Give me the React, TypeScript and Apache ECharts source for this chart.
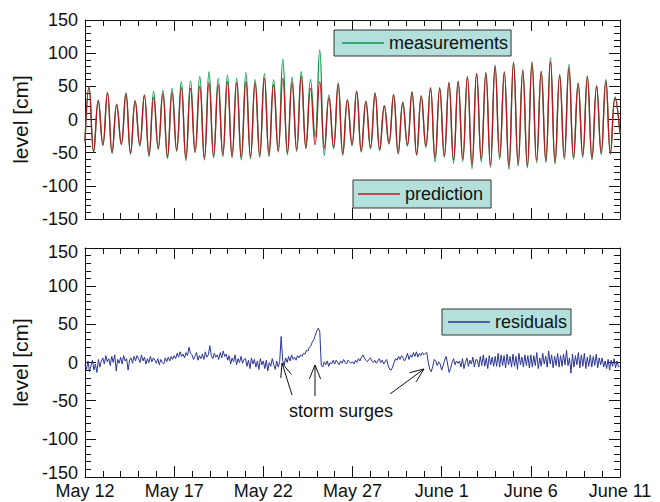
import React, { useEffect, useRef } from "react";
import * as echarts from "echarts";

// ---------- data ----------
const X_TICK_LABELS = ["May 12", "May 17", "May 22", "May 27", "June 1", "June 6", "June 11"];
const DAYS_SPAN = 30;
const FIRST_HIGH_WATER_HOUR = 5.4;
const TIDE_PERIOD_HOURS = 12.42;

const MEAS_START = -35;
const PRED_START = -33;
const MEAS_END = -22;
const PRED_END = -20;

const MEAS_HIGH = [
  50, 29, 41, 23, 40, 28, 37, 42, 44, 47,
  57, 58, 65, 72, 62, 67, 62, 71, 60, 69,
  60, 91, 64, 72, 60, 105, 37, 55, 30, 43,
  28, 40, 21, 38, 26, 42, 36, 48, 48, 56,
  58, 65, 70, 71, 82, 72, 87, 75, 87, 73,
  93, 68, 83, 55, 66, 51, 60, 34,
];
const PRED_HIGH = [
  48, 28, 40, 22, 39, 28, 36, 33, 39, 40,
  48, 47, 50, 55, 52, 57, 55, 57, 55, 62,
  52, 62, 55, 65, 47, 57, 33, 53, 29, 42,
  27, 39, 20, 37, 25, 41, 35, 47, 47, 55,
  57, 64, 69, 70, 80, 71, 85, 73, 85, 72,
  87, 66, 77, 54, 64, 50, 58, 32,
];
const MEAS_LOW = [
  -49, -39, -51, -38, -52, -40, -56, -45, -59, -48,
  -62, -50, -61, -58, -56, -58, -61, -59, -57, -56,
  -49, -53, -48, -44, -26, -54, -44, -54, -39, -49,
  -44, -47, -37, -52, -40, -54, -42, -64, -57, -66,
  -63, -74, -64, -72, -60, -75, -70, -73, -65, -65,
  -67, -60, -60, -57, -61, -53, -52,
];
const PRED_LOW = [
  -48, -38, -49, -37, -50, -38, -53, -43, -56, -46,
  -59, -48, -58, -55, -53, -55, -57, -56, -54, -53,
  -47, -50, -45, -42, -38, -43, -42, -51, -38, -47,
  -42, -45, -35, -50, -38, -52, -40, -58, -55, -61,
  -60, -68, -60, -69, -57, -71, -67, -70, -62, -62,
  -64, -57, -57, -54, -58, -50, -50,
];

// residuals, one value every 2 hours, one row per day
const RESIDUAL_STEP_HOURS = 2;
const RESIDUALS = [
  -3, -9, 2, -12, -4, 3, -10, -2, -13, 4, -6, 2,
  6, -2, 9, 1, 5, -4, 8, 0, 10, -11, 4, -1,
  7, -2, 9, 2, 5, -10, 3, 6, -1, 8, 2, 9,
  5, 0, 10, 2, 7, -2, 5, 0, 8, 1, 6, 3,
  -1, 5, -3, 4, 0, -2, 6, 1, 7, 2, 8, 4,
  9, 5, 12, 7, 14, 8, 11, 6, 13, 9, 20, 12,
  10, 4, 8, 13, 3, 9, 5, 11, 4, 14, 7, 10,
  22, 9, 5, 12, 7, 10, 4, 13, 6, 15, 8, 11,
  3, 9, -2, 6, 1, 10, -3, 5, 0, 8, -1, 4,
  5, -5, 3, -8, 6, -2, 4, -6, 2, -9, 5, -3,
  2, -8, 3, -11, 0, -5, 5, -3, -9, 2, -6, 1,
  34, 3, -4, 6, 0, 8, 2, 10, 4, 7, 3, 9,
  6, 10, 8, 12, 11, 16, 15, 20, 22, 27, 30, 36,
  42, 45, 40, -4, -6, 1, -3, 2, -5, 0, -2, 3,
  -2, 3, 0, -3, 2, -1, 4, 0, -2, 3, 1, -1,
  1, -2, 3, 0, 5, 2, 7, 10, 6, 3, 1, 4,
  6, 2, 0, 3, -1, 2, 5, 0, 3, -2, 1, 4,
  -4, -9, -10, -6, 0, 5, 3, 8, 4, 9, 6, 2,
  6, 12, 4, 10, 7, 13, 8, 14, 7, 12, 9, 13,
  10, 12, 13, 0, -9, -12, -5, 4, 2, -4, 1, -2,
  -10, -4, 3, 8, -2, -13, -8, 0, 5, -3, 2, -1,
  2, -6, 5, -8, 0, 6, -5, 3, -2, 7, -6, 4,
  3, -6, 8, -4, 10, -5, 6, -8, 9, -3, 7, -5,
  8, -5, 12, -6, 10, -4, 9, -7, 11, -3, 8, -6,
  11, -5, 8, -9, 12, -3, 7, -6, 10, -4, 9, -7,
  10, -6, 9, -4, 13, -8, 6, -5, 12, -2, 8, -6,
  15, -2, 10, -7, 8, -4, 12, -6, 9, -5, 11, -3,
  16, -4, 6, -14, 11, -6, 9, -3, 13, -7, 10, -5,
  12, -8, 7, -5, 10, -6, 8, -4, 11, -7, 6, -3,
  6, -6, 2, -8, 4, -10, 3, -5, 5, -7, 2, -6,
  -4,
];

// ---------- build series ----------
function tideSeries(start: number, highs: number[], lows: number[], end: number) {
  const pts: number[][] = [[0, start]];
  highs.forEach((h, k) => {
    const th = FIRST_HIGH_WATER_HOUR + k * TIDE_PERIOD_HOURS;
    pts.push([th / 24, h]);
    if (k < lows.length) pts.push([(th + TIDE_PERIOD_HOURS / 2) / 24, lows[k]]);
  });
  pts.push([DAYS_SPAN, end]);
  return pts;
}

const FONT = '"Liberation Sans", Arial, Helvetica, sans-serif';

function arrow(x1: number, y1: number, x2: number, y2: number) {
  const dx = x1 - x2, dy = y1 - y2;
  const len = Math.hypot(dx, dy);
  const ux = dx / len, uy = dy / len;
  const a = (22 * Math.PI) / 180, L = 15;
  const r = (s: number) => [
    x2 + L * (ux * Math.cos(s * a) - uy * Math.sin(s * a)),
    y2 + L * (ux * Math.sin(s * a) + uy * Math.cos(s * a)),
  ];
  const style = { stroke: "#111", lineWidth: 1, fill: null as any };
  return [
    { type: "line", shape: { x1, y1, x2, y2 }, style },
    { type: "polyline", shape: { points: [r(1), [x2, y2], r(-1)] }, style },
  ];
}

export default function App() {
  const ref = useRef<HTMLDivElement>(null);
  useEffect(() => {
    if (!ref.current) return;
    const chart = echarts.init(ref.current, undefined, { renderer: "svg" });

    const grids = [
      { left: 85, top: 20, width: 535, height: 199 },
      { left: 85, top: 248, width: 535, height: 229 },
    ];
    const axisLine = { show: true, onZero: false, lineStyle: { color: "#111", width: 1 } };
    const xBase = (gridIndex: number, position: string, labels: boolean) => ({
      type: "value",
      gridIndex,
      position,
      min: 0,
      max: DAYS_SPAN,
      interval: 5,
      axisLine,
      axisTick: { show: true, inside: true, length: 11, lineStyle: { color: "#111" } },
      minorTick: { show: true, splitNumber: 5, length: 6, lineStyle: { color: "#111" } },
      splitLine: { show: false },
      axisLabel: {
        show: labels,
        margin: 5,
        fontSize: 18,
        fontFamily: FONT,
        color: "#111",
        formatter: (v: number) => X_TICK_LABELS[Math.round(v / 5)] ?? "",
      },
    });
    const labelText = { fontSize: 18, fontFamily: FONT, color: "#111" };
    const yBase = (gridIndex: number, position: string, labels: boolean, pullEnds: boolean) => ({
      type: "value",
      gridIndex,
      position,
      min: -150,
      max: 150,
      interval: 50,
      name: labels ? "level [cm]" : "",
      nameLocation: "middle",
      nameGap: 44,
      nameTextStyle: { fontSize: 21, fontFamily: FONT, color: "#111" },
      axisLine,
      axisTick: { show: true, inside: true, length: 11, lineStyle: { color: "#111" } },
      minorTick: { show: true, splitNumber: 5, length: 6, lineStyle: { color: "#111" } },
      splitLine: { show: false },
      axisLabel: {
        show: labels,
        margin: 7,
        ...labelText,
        formatter: (v: number) =>
          pullEnds && v === -150 ? "{lo|-150}" : pullEnds && v === 150 ? "{hi|150}" : String(v),
        rich: {
          lo: { ...labelText, padding: [0, 0, 9, 0] },
          hi: { ...labelText, padding: [8, 0, 0, 0] },
        },
      },
    });

    const legendBase = {
      orient: "horizontal",
      backgroundColor: "#b3e0db",
      borderColor: "#333",
      borderWidth: 1,
      borderRadius: 0,
      icon: "rect",
      itemWidth: 42,
      itemHeight: 1.5,
      itemGap: 0,
      selectedMode: false,
      textStyle: { fontSize: 18, fontFamily: FONT, color: "#111" },
    };

    chart.setOption({
      animation: false,
      backgroundColor: "#fff",
      grid: grids,
      xAxis: [xBase(0, "bottom", false), xBase(0, "top", false), xBase(1, "bottom", true), xBase(1, "top", false)],
      yAxis: [
        yBase(0, "left", true, false),
        yBase(0, "right", false, false),
        yBase(1, "left", true, true),
        yBase(1, "right", false, false),
      ],
      legend: [
        { ...legendBase, data: ["measurements"], left: 334, top: 30, padding: [4, 3, 4, 8] },
        { ...legendBase, data: ["prediction"], left: 353, top: 180, padding: [5, 8, 5, 5] },
        { ...legendBase, data: ["residuals"], left: 442, top: 309, padding: [4, 4, 4, 6] },
      ],
      series: [
        {
          name: "measurements",
          type: "line",
          xAxisIndex: 0,
          yAxisIndex: 0,
          data: tideSeries(MEAS_START, MEAS_HIGH, MEAS_LOW, MEAS_END),
          symbol: "none",
          smooth: 0.45,
          color: "#08994a",
          lineStyle: { color: "#08994a", width: 1.3 },
        },
        {
          name: "prediction",
          type: "line",
          xAxisIndex: 0,
          yAxisIndex: 0,
          data: tideSeries(PRED_START, PRED_HIGH, PRED_LOW, PRED_END),
          symbol: "none",
          smooth: 0.45,
          color: "#c1161f",
          lineStyle: { color: "#c1161f", width: 1.3 },
        },
        {
          name: "residuals",
          type: "line",
          xAxisIndex: 2,
          yAxisIndex: 2,
          data: RESIDUALS.map((v, i) => [(i * RESIDUAL_STEP_HOURS) / 24, v]),
          symbol: "none",
          color: "#2b3596",
          lineStyle: { color: "#2b3596", width: 1 },
        },
      ],
      graphic: [
        ...arrow(292, 395, 282, 363),
        ...arrow(315, 396, 315, 365),
        ...arrow(390, 394, 424, 369),
        {
          type: "text",
          left: 289,
          top: 402,
          style: { text: "storm surges", fontSize: 18, fontFamily: FONT, fill: "#111" },
        },
      ],
    });
    return () => chart.dispose();
  }, []);
  return (
    <div
      ref={ref}
      style={{ position: "fixed", left: 0, top: 0, width: 660, height: 502, background: "#fff" }}
    />
  );
}
